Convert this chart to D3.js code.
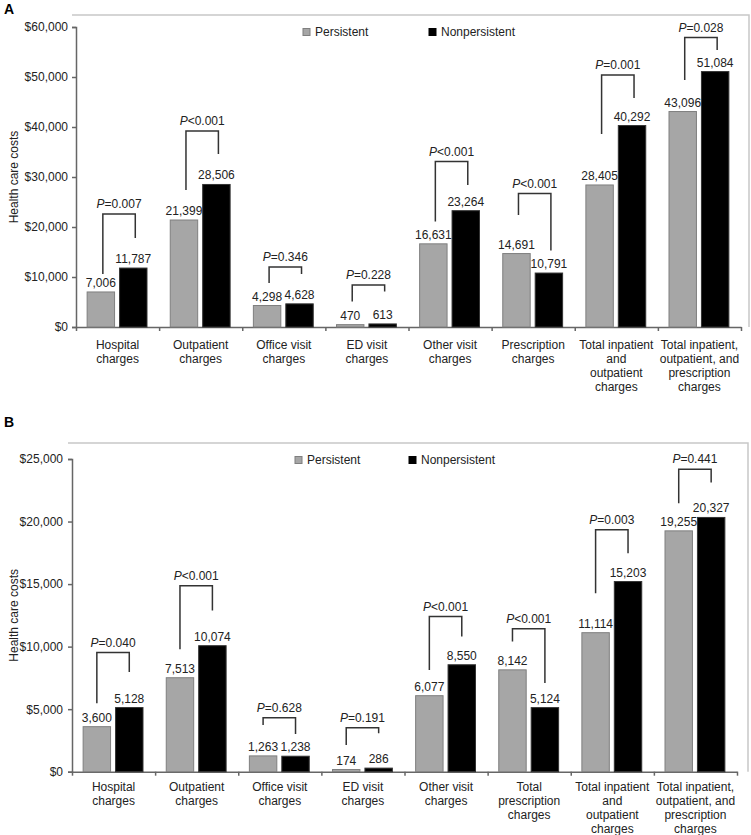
<!DOCTYPE html>
<html>
<head>
<meta charset="utf-8">
<script src="https://cdn.jsdelivr.net/npm/d3@7"></script>
<style>
  body { margin: 0; background: #fff; }
  svg { font-family: "Liberation Sans", Arial, sans-serif; }
</style>
</head>
<body>
<div id="chart"></div>
<script>
// Data
// ===========================
var categoriesA = [
  ["Hospital", "charges"],
  ["Outpatient", "charges"],
  ["Office visit", "charges"],
  ["ED visit", "charges"],
  ["Other visit", "charges"],
  ["Prescription", "charges"],
  ["Total inpatient", "and", "outpatient", "charges"],
  ["Total inpatient,", "outpatient, and", "prescription", "charges"]
];
var categoriesB = [
  ["Hospital", "charges"],
  ["Outpatient", "charges"],
  ["Office visit", "charges"],
  ["ED visit", "charges"],
  ["Other visit", "charges"],
  ["Total", "prescription", "charges"],
  ["Total inpatient", "and", "outpatient", "charges"],
  ["Total inpatient,", "outpatient, and", "prescription", "charges"]
];

var seriesNames = ["Persistent", "Nonpersistent"];

var persistentA = [7006, 21399, 4298, 470, 16631, 14691, 28405, 43096];
var nonpersistentA = [11787, 28506, 4628, 613, 23264, 10791, 40292, 51084];
var pValuesA = ["=0.007", "<0.001", "=0.346", "=0.228", "<0.001", "<0.001", "=0.001", "=0.028"];
// bracket levels in dollars: top bar, end of left leg, end of right leg
var bracketTopA = [22600, 39200, 12000, 8400, 33100, 26700, 50400, 57900];
var bracketLeftA = [10600, 27400, 8800, 5100, 21100, 22400, 38600, 49400];
var bracketRightA = [17800, 34600, 10600, 7100, 28400, 15300, 45800, 55400];
var yTicksA = [0, 10000, 20000, 30000, 40000, 50000, 60000];

var persistentB = [3600, 7513, 1263, 174, 6077, 8142, 11114, 19255];
var nonpersistentB = [5128, 10074, 1238, 286, 8550, 5124, 15203, 20327];
var pValuesB = ["=0.040", "<0.001", "=0.628", "=0.191", "<0.001", "<0.001", "=0.003", "=0.441"];
var bracketTopB = [9520, 14860, 4320, 3520, 12400, 11420, 19340, 24190];
var bracketLeftB = [5470, 9790, 3740, 2140, 8140, 10400, 14270, 21470];
var bracketRightB = [7980, 12880, 3020, 3070, 10800, 7100, 17470, 23120];
var yTicksB = [0, 5000, 10000, 15000, 20000, 25000];

// Set up the svg
// ===========================
var svgWidth = 751;
var svgHeight = 835;

var svg = d3.select("#chart")
            .append("svg")
            .attr("width", svgWidth)
            .attr("height", svgHeight);

var fmt = d3.format(",");
var dollar = function(d) { return "$" + d3.format(",")(d); };

function drawPanel(p) {
  var g = svg.append("g");

  // panel letter
  g.append("text")
   .attr("x", 4)
   .attr("y", p.letterY)
   .attr("font-size", 14)
   .attr("font-weight", "bold")
   .text(p.letter);

  // light frame (top and right)
  g.append("path")
   .attr("d", `M${p.frameLeft},${p.frameTop}H${p.frameRight}V${p.bottom}`)
   .attr("fill", "none")
   .attr("stroke", "#c8c8c8")
   .attr("stroke-width", 1.5);

  var y = d3.scaleLinear()
            .domain([0, d3.max(p.ticks)])
            .range([p.bottom, p.top]);

  var x = d3.scaleBand()
            .domain(d3.range(p.categories.length))
            .range([p.left, p.right]);

  var xEdge = d3.scaleLinear()
                .domain([0, p.categories.length])
                .range([p.left, p.right]);

  // y axis
  var leftAxis = d3.axisLeft(y)
                   .tickValues(p.ticks)
                   .tickFormat(dollar)
                   .tickSize(4)
                   .tickPadding(p.tickPad);
  var ya = g.append("g")
            .attr("transform", `translate(${p.left},0)`)
            .call(leftAxis);
  ya.select(".domain").attr("stroke", "#666").attr("stroke-width", 1.5);
  ya.selectAll(".tick line").attr("stroke", "#666").attr("stroke-width", 1.5);
  ya.selectAll(".tick text")
    .attr("font-size", 12)
    .attr("font-family", "Liberation Sans, Arial, sans-serif")
    .attr("fill", "#222");

  // x axis with ticks between the categories
  var bottomAxis = d3.axisBottom(xEdge)
                     .tickValues(d3.range(p.categories.length + 1))
                     .tickFormat("")
                     .tickSize(4)
                     .tickSizeOuter(0);
  var xa = g.append("g")
            .attr("transform", `translate(0,${p.bottom})`)
            .call(bottomAxis);
  xa.select(".domain").attr("stroke", "#666").attr("stroke-width", 1.5);
  xa.selectAll(".tick line").attr("stroke", "#666").attr("stroke-width", 1.5);

  // category labels
  var catText = g.selectAll(".cat")
                 .data(p.categories)
                 .enter()
                 .append("text")
                 .attr("class", "cat")
                 .attr("text-anchor", "middle")
                 .attr("font-size", 12)
                 .attr("fill", "#222")
                 .attr("x", (d, i) => x(i) + x.bandwidth() / 2)
                 .attr("y", p.bottom + p.catOffset);
  catText.selectAll("tspan")
         .data(d => d)
         .enter()
         .append("tspan")
         .attr("x", function() { return d3.select(this.parentNode).attr("x"); })
         .attr("dy", (d, i) => i === 0 ? 0 : 14)
         .text(d => d);

  // y axis title
  g.append("text")
   .attr("transform", "rotate(-90)")
   .attr("x", -(p.top + p.bottom) / 2)
   .attr("y", 18)
   .attr("text-anchor", "middle")
   .attr("font-size", 12)
   .attr("fill", "#222")
   .text("Health care costs");

  // bars
  var bw = x.bandwidth() * 0.33;
  var gap = 5;
  var cx = i => x(i) + x.bandwidth() / 2 - 0.5;
  var grayX = i => cx(i) - gap / 2 - bw;
  var blackX = i => cx(i) + gap / 2;

  g.selectAll(".barP")
   .data(p.persistent)
   .enter()
   .append("rect")
   .attr("x", (d, i) => grayX(i))
   .attr("y", d => y(d))
   .attr("width", bw)
   .attr("height", d => y(0) - y(d))
   .attr("fill", "#a6a6a6")
   .attr("stroke", "#7f7f7f")
   .attr("stroke-width", 1);

  g.selectAll(".barN")
   .data(p.nonpersistent)
   .enter()
   .append("rect")
   .attr("x", (d, i) => blackX(i))
   .attr("y", d => y(d))
   .attr("width", bw)
   .attr("height", d => y(0) - y(d))
   .attr("fill", "#000")
   .attr("stroke", "#333")
   .attr("stroke-width", 1);

  // value labels
  g.selectAll(".valP")
   .data(p.persistent)
   .enter()
   .append("text")
   .attr("text-anchor", "middle")
   .attr("font-size", 12)
   .attr("fill", "#222")
   .attr("x", (d, i) => grayX(i) + bw / 2)
   .attr("y", d => y(d) - 5)
   .text(d => fmt(d));

  g.selectAll(".valN")
   .data(p.nonpersistent)
   .enter()
   .append("text")
   .attr("text-anchor", "middle")
   .attr("font-size", 12)
   .attr("fill", "#222")
   .attr("x", (d, i) => blackX(i) + bw / 2)
   .attr("y", d => y(d) - 5)
   .text(d => fmt(d));

  // brackets with P values
  g.selectAll(".bracket")
   .data(p.bracketTop)
   .enter()
   .append("path")
   .attr("d", function(d, i) {
     var x1 = grayX(i) + bw / 2 + p.bracketShift;
     var x2 = blackX(i) + bw / 2 + p.bracketShift;
     return `M${x1},${y(p.bracketLeft[i])}V${y(d)}H${x2}V${y(p.bracketRight[i])}`;
   })
   .attr("fill", "none")
   .attr("stroke", "#333")
   .attr("stroke-width", 1.5);

  var pText = g.selectAll(".pval")
               .data(p.pValues)
               .enter()
               .append("text")
               .attr("text-anchor", "middle")
               .attr("font-size", 12)
               .attr("fill", "#222")
               .attr("x", (d, i) => cx(i) + p.bracketShift)
               .attr("y", (d, i) => y(p.bracketTop[i]) - 6);
  pText.append("tspan").attr("font-style", "italic").text("P");
  pText.append("tspan").text(d => d);

  // legend
  var legend = g.selectAll(".legend")
                .data(seriesNames)
                .enter()
                .append("g")
                .attr("transform", (d, i) => `translate(${p.legendX[i]},${p.legendY})`);
  legend.append("rect")
        .attr("x", 0)
        .attr("y", -3.5)
        .attr("width", 7)
        .attr("height", 7)
        .attr("fill", (d, i) => i === 0 ? "#a6a6a6" : "#000")
        .attr("stroke", (d, i) => i === 0 ? "#7f7f7f" : "#000");
  legend.append("text")
        .attr("x", 12)
        .attr("y", 4)
        .attr("font-size", 12)
        .attr("fill", "#222")
        .text(d => d);
}

drawPanel({
  letter: "A", letterY: 14,
  frameLeft: 72, frameTop: 15, frameRight: 749,
  top: 27, bottom: 327, left: 76, right: 741,
  tickPad: 4, catOffset: 22,
  categories: categoriesA,
  persistent: persistentA, nonpersistent: nonpersistentA,
  pValues: pValuesA,
  bracketTop: bracketTopA, bracketLeft: bracketLeftA, bracketRight: bracketRightA,
  bracketShift: 2,
  ticks: yTicksA,
  legendX: [303, 429], legendY: 32
});

drawPanel({
  letter: "B", letterY: 427,
  frameLeft: 68, frameTop: 443, frameRight: 748,
  top: 459, bottom: 771.7, left: 72, right: 737,
  tickPad: 5, catOffset: 19.5,
  categories: categoriesB,
  persistent: persistentB, nonpersistent: nonpersistentB,
  pValues: pValuesB,
  bracketTop: bracketTopB, bracketLeft: bracketLeftB, bracketRight: bracketRightB,
  bracketShift: 0,
  ticks: yTicksB,
  legendX: [295, 409], legendY: 460
});
</script>
</body>
</html>
